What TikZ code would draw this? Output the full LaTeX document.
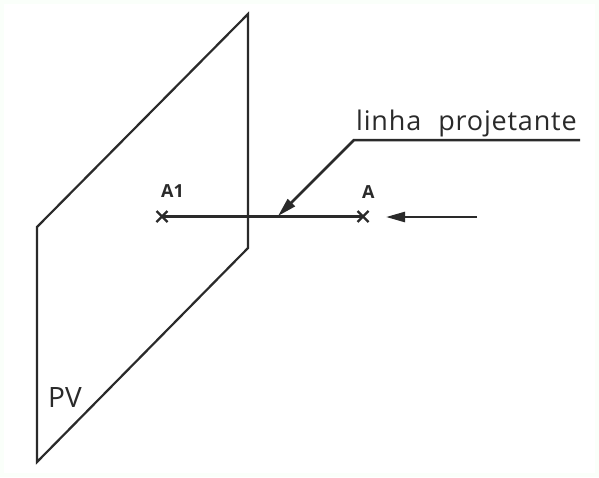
\documentclass[tikz,border=0pt]{standalone}
\usepackage{fontspec}
\setmainfont{Open Sans}
\usetikzlibrary{arrows.meta}
\definecolor{ink}{HTML}{2A2A2A}
\tikzset{
  plane/.style={draw=ink,line width=2.2pt,line join=miter},
  axis/.style={draw=ink,line width=2.5pt},
  leader/.style={draw=ink,line width=2.5pt},
  tipped/.style={-{Triangle[length=19pt,width=10pt]}},
  cross/.style={draw=ink,line width=2.2pt},
  lbl/.style={inner sep=0pt,text=ink,anchor=base west},
}
\begin{document}
\begin{tikzpicture}[x=1pt,y=-1pt]
\useasboundingbox (0,0) rectangle (599,477);
\fill[white!97!green!60!white] (0,0) rectangle (599,477);
\fill[white] (4,4) rectangle (595,473);
% plane
\coordinate (p1) at (37,227);
\coordinate (p2) at (248,14);
\coordinate (p3) at (248,248);
\coordinate (p4) at (37,462);
\draw[plane] (p1) -- (p2) -- (p3) -- (p4) -- cycle;
% projecting line
\coordinate (a1) at (162,216.5);
\coordinate (a) at (363,216.5);
\draw[axis] (a1) -- (a);
\foreach \c in {a1,a}{
  \draw[cross] ([shift={(-5.5,-5.5)}]\c) -- ([shift={(5.5,5.5)}]\c);
  \draw[cross] ([shift={(-5.5,5.5)}]\c) -- ([shift={(5.5,-5.5)}]\c);
}
% leader
\coordinate (l0) at (580,140);
\coordinate (l1) at (354,140);
\coordinate (l2) at (278,216);
\draw[leader,tipped] (l0) -- (l1) -- (l2);
% view arrow
\coordinate (v0) at (477,217);
\coordinate (v1) at (386,217);
\draw[leader,tipped] (v0) -- (v1);
% labels
\node[lbl,font=\fontsize{27}{27}\selectfont\addfontfeature{LetterSpace=3}] (t) at (356,130.5) {linha\hspace{0.63em}projetante};
\node[lbl,font=\fontsize{18}{18}\selectfont\bfseries] (ta1) at (161,197.5) {A1};
\node[lbl,font=\fontsize{18}{18}\selectfont\bfseries] (ta) at (362,198) {A};
\node[lbl,font=\fontsize{28}{28}\selectfont] (pv) at (48,407) {PV};
\end{tikzpicture}
\end{document}
